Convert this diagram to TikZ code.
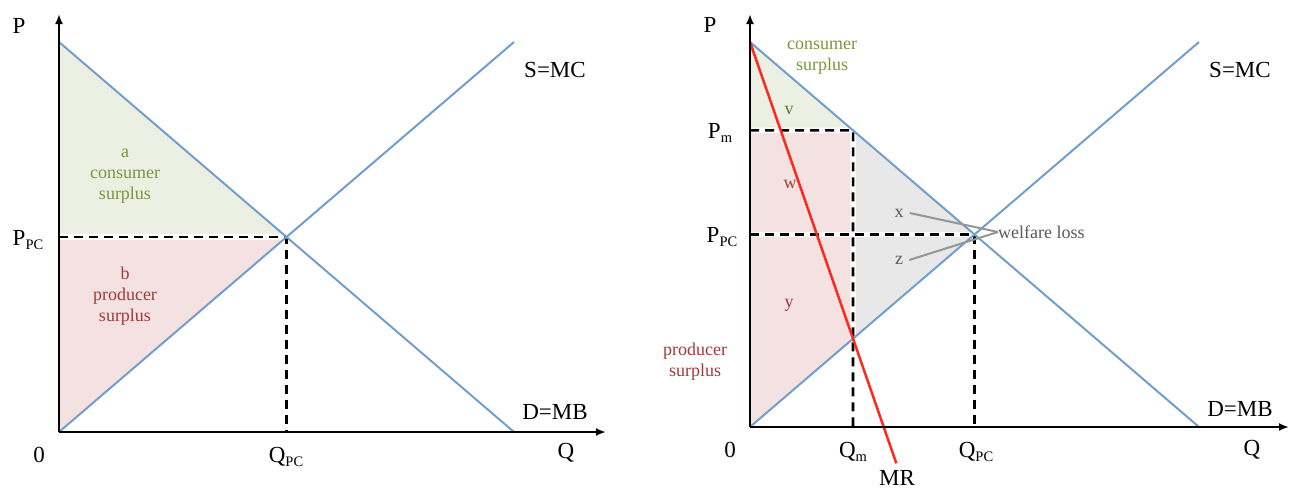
\documentclass[tikz,border=0pt]{standalone}
\usepackage{fontspec}
\setmainfont{Liberation Serif}
\usetikzlibrary{arrows.meta,calc}

\definecolor{curveblue}{RGB}{111,158,207}
\definecolor{csfill}{RGB}{235,240,226}
\definecolor{psfill}{RGB}{244,225,225}
\definecolor{dwlfill}{RGB}{232,232,232}
\definecolor{cstext}{RGB}{122,150,60}
\definecolor{pstext}{RGB}{160,58,58}
\definecolor{mrred}{RGB}{255,40,30}
\definecolor{leadgrey}{RGB}{150,150,150}

\newcommand{\lowtxt}[1]{\raisebox{-0.45ex}{\fontsize{14.5}{14.5}\selectfont #1}}

\begin{document}
\begin{tikzpicture}[
        x=1pt, y=-1pt,
        axis/.style={
            line width=2.8pt,
            -{Latex[length=10pt,width=8pt]}
        },
        curve/.style={
            curveblue,
            line width=2pt
        },
        guide/.style={
            line width=2.6pt,
            dash pattern=on 9pt off 6pt
        },
        guidebg/.style={
            white,
            line width=5.5pt
        },
        big/.style={
            font=\fontsize{23}{25}\selectfont,
            inner sep=0pt
        },
        small/.style={
            font=\fontsize{18}{21}\selectfont,
            align=center,
            inner sep=0pt
        },
        leader/.style={
            leadgrey,
            line width=2pt
        }
    ]

        \useasboundingbox (0,0) rectangle (1291,488);

        % left graph: perfect competition
        \coordinate (o1) at (59,432);
        \coordinate (ytop1) at (59,14);
        \coordinate (xend1) at (606,432);
        \coordinate (dtop1) at (59,42);
        \coordinate (dend1) at (514,432);
        \coordinate (send1) at (514,42);
        \coordinate (e1) at (intersection of dtop1--dend1 and o1--send1);

        \fill[csfill] (dtop1) -- (e1) -- (o1 |- e1) -- cycle;
        \fill[psfill] (o1 |- e1) -- (e1) -- (o1) -- cycle;

        \draw[guidebg] (o1 |- e1) -- (e1) -- (e1 |- o1);
        \draw[guide] (o1 |- e1) -- (e1) -- (e1 |- o1);

        \draw[curve] (dtop1) -- (dend1);
        \draw[curve] (o1) -- (send1);

        \draw[axis] (o1) -- (ytop1);
        \draw[axis] (o1) -- (xend1);

        \node[big] (p1) at (19,26) {P};
        \node[big] (ppc1) at (28,240) {P\lowtxt{PC}};
        \node[big] (zero1) at (39,455) {0};
        \node[big] (qpc1) at (286,457) {Q\lowtxt{PC}};
        \node[big] (q1) at (566,453) {Q};
        \node[big] (smc1) at (555,70) {S=MC};
        \node[big] (dmb1) at (555,412) {D=MB};

        \node[small, text=cstext] (cs1) at (125,176) {a\\consumer\\surplus};
        \node[small, text=pstext] (ps1) at (125,296) {b\\producer\\surplus};

        % right graph: monopoly
        \coordinate (o2) at (750,427);
        \coordinate (ytop2) at (750,14);
        \coordinate (xend2) at (1289,427);
        \coordinate (dtop2) at (750,42);
        \coordinate (dend2) at (1199,427);
        \coordinate (send2) at (1199,42);
        \coordinate (e2) at (intersection of dtop2--dend2 and o2--send2);
        \coordinate (qm) at (853,427);
        \coordinate (m) at (intersection of dtop2--dend2 and qm--853,0);
        \coordinate (k) at (intersection of o2--send2 and qm--853,0);
        \coordinate (mrend) at ($(dtop2)!1.42!(k)$);

        \fill[csfill] (dtop2) -- (m) -- (o2 |- m) -- cycle;
        \fill[psfill] (o2 |- m) -- (m) -- (k) -- (o2) -- cycle;
        \fill[dwlfill] (m) -- (e2) -- (k) -- cycle;

        \draw[guidebg] (o2 |- m) -- (m) -- (qm);
        \draw[guidebg] (o2 |- e2) -- (e2) -- (e2 |- o2);
        \draw[guide] (o2 |- m) -- (m) -- (qm);
        \draw[guide] (o2 |- e2) -- (e2) -- (e2 |- o2);

        \draw[curve] (dtop2) -- (dend2);
        \draw[curve] (o2) -- (send2);
        \draw[mrred, line width=2.5pt] (dtop2) -- (mrend);

        \draw[axis] (o2) -- (ytop2);
        \draw[axis] (o2) -- (xend2);

        \node[big] (p2) at (710,25) {P};
        \node[big] (pm2) at (720,133) {P\lowtxt{m}};
        \node[big] (ppc2) at (722,237) {P\lowtxt{PC}};
        \node[big] (zero2) at (730,450) {0};
        \node[big] (qm2) at (853,452) {Q\lowtxt{m}};
        \node[big] (qpc2) at (976,452) {Q\lowtxt{PC}};
        \node[big] (q2) at (1252,450) {Q};
        \node[big] (mr2) at (897,478) {MR};
        \node[big] (smc2) at (1240,70) {S=MC};
        \node[big] (dmb2) at (1240,409) {D=MB};

        \node[small, text=cstext] (cs2) at (822,58) {consumer\\surplus};
        \node[small, text=pstext] (ps2) at (695,362) {producer\\surplus};
        \node[small, text=cstext!80!black] (v2) at (789,110) {v};
        \node[small, text=pstext] (w2) at (790,184) {w};
        \node[small, text=pstext] (y2) at (789,305) {y};
        \node[small, text=black!65] (x2) at (899,213) {x};
        \node[small, text=black!65] (z2) at (899,260) {z};
        \node[small, text=black!65, anchor=west] (wl2) at (998,232) {welfare loss};

        \draw[leader] (x2.east) ++(6,0) -- (wl2.west);
        \draw[leader] (z2.east) ++(6,0) -- (wl2.west);

    \end{tikzpicture}
\end{document}
